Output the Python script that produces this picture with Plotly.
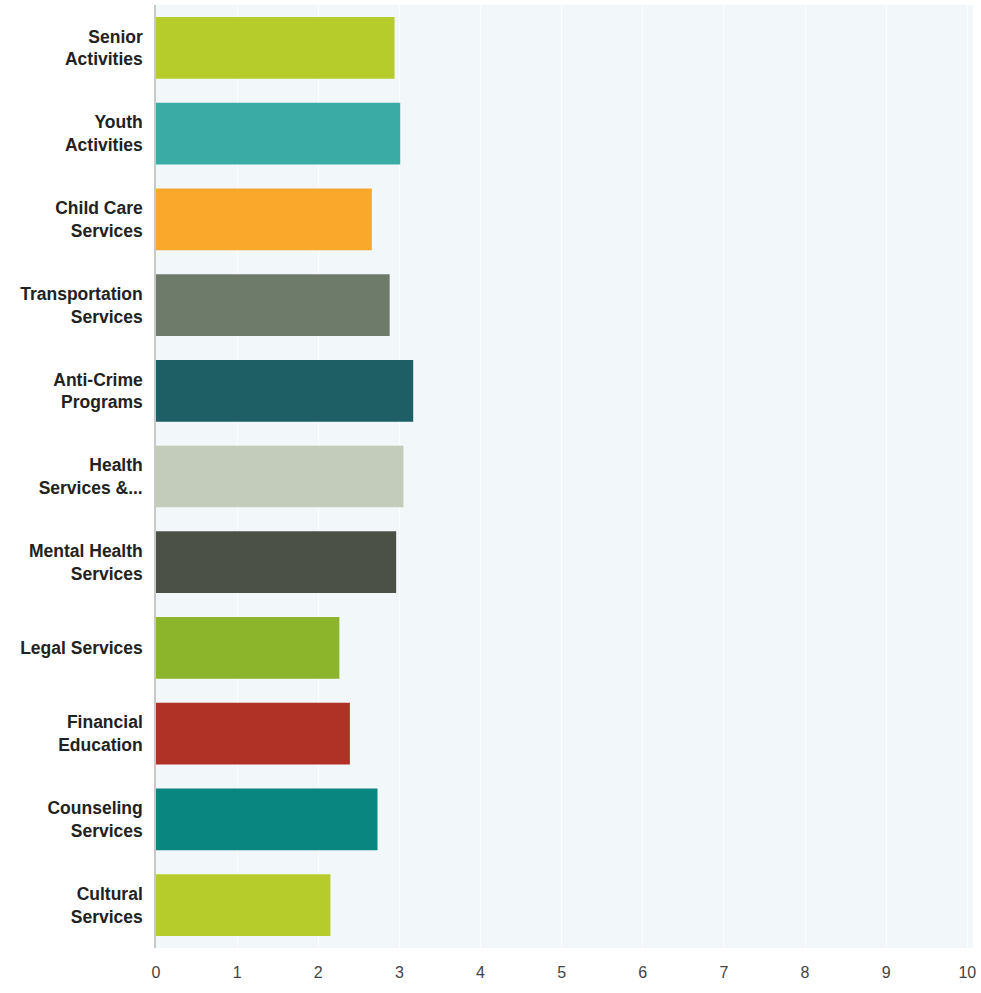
import plotly.graph_objects as go

# Services, listed top to bottom
categories = [
    "Senior<br>Activities",
    "Youth<br>Activities",
    "Child Care<br>Services",
    "Transportation<br>Services",
    "Anti-Crime<br>Programs",
    "Health<br>Services &...",
    "Mental Health<br>Services",
    "Legal Services",
    "Financial<br>Education",
    "Counseling<br>Services",
    "Cultural<br>Services",
]
# Average rating per service
values = [2.94, 3.01, 2.66, 2.88, 3.17, 3.05, 2.96, 2.26, 2.39, 2.73, 2.15]
bar_colors = [
    "#b5cc2a", "#3aaca5", "#f9a82b", "#6e7b6a", "#1e5f65", "#c3cbbb",
    "#4b5147", "#8db52b", "#b03226", "#0a8680", "#b6cc2a",
]
x_ticks = list(range(0, 11))

fig = go.Figure(
    go.Bar(
        x=values,
        y=[f"<b>{c}</b>" for c in categories],
        orientation="h",
        marker=dict(color=bar_colors, line=dict(width=0)),
        width=0.72,
        hoverinfo="x+y",
    )
)

fig.update_layout(
    width=981,
    height=993,
    margin=dict(l=156, r=6, t=5, b=45),
    paper_bgcolor="white",
    plot_bgcolor="#f2f7f9",
    showlegend=False,
    font=dict(family="Liberation Sans, Arial, sans-serif", color="#222222"),
)

fig.update_xaxes(
    range=[0, 10.07],
    tickvals=x_ticks,
    ticktext=[str(t) for t in x_ticks],
    showgrid=True,
    gridcolor="#fbfdfe",
    gridwidth=1,
    zeroline=False,
    showline=False,
    ticks="",
    ticklabelstandoff=13,
    tickfont=dict(size=16, color="#444444"),
    fixedrange=True,
)

fig.update_yaxes(
    autorange="reversed",
    showgrid=False,
    showline=True,
    linecolor="#c8c8c8",
    linewidth=1.5,
    ticks="",
    ticklabelstandoff=8,
    tickfont=dict(size=17.5, color="#222222"),
    fixedrange=True,
)

fig.write_html("out.html")
